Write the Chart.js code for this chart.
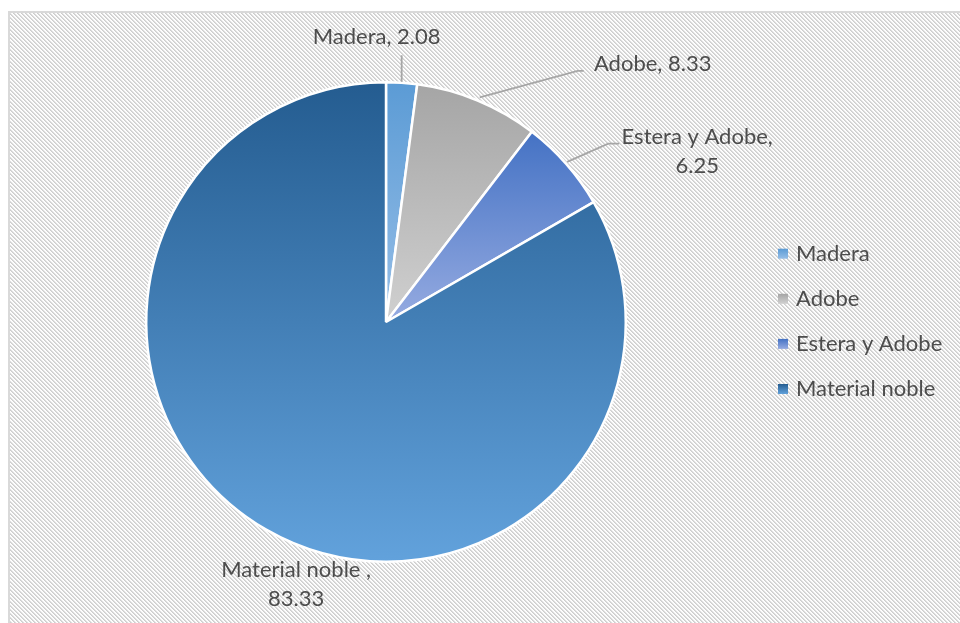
<!DOCTYPE html>
<html>
<head>
<meta charset="utf-8">
<script src="https://cdn.jsdelivr.net/npm/chart.js@4"></script>
<style>
  body { margin: 0; background: #fff; }
  #wrap { width: 960px; height: 623px; }
</style>
</head>
<body>
<div id="wrap"><canvas id="chart" width="960" height="623"></canvas></div>
<script>
// 재료별 비율 데이터
const categories = ['Madera', 'Adobe', 'Estera y Adobe', 'Material noble'];
const values = [2.08, 8.33, 6.25, 83.33];

// 조각 색상 (위쪽 -> 아래쪽 그라데이션)
const colorTop = ['#5b9bd5', '#a5a5a5', '#4472c4', '#245c90'];
const colorBottom = ['#96bee7', '#d0d0d0', '#96abe1', '#62a2dc'];

const FONT = '22px Lato, "Open Sans", sans-serif';
const TEXT_COLOR = '#4d4d4d';

// 데이터 라벨 배치 (조각 바깥쪽 중앙점 기준)
const labelLayout = [
    { sep: ', ', wrap: false, dx: -25, dy: -38.5, leader: [[0, -1], [0, -27.5]] },
    { sep: ', ', wrap: false, dx: 175, dy: -29.3, leader: [[2, -3], [100, -29.6], [106, -29.6]] },
    { sep: ',', wrap: true, dx: 131, dy: -19.6, leader: [[1, -2], [42, -20.3], [53, -20.3]] },
    { sep: ' ,', wrap: true, dx: 30, dy: 47.2, leader: null }
];

// 조각별 세로 그라데이션
function sliceGradient(chart, i) {
    const area = chart.chartArea;
    if (!area) return colorTop[i];
    const cx = (area.left + area.right) / 2;
    const cy = (area.top + area.bottom) / 2;
    const r = Math.min(area.width, area.height) / 2;
    const total = values.reduce((a, b) => a + b, 0);
    const start = values.slice(0, i).reduce((a, b) => a + b, 0) / total * 2 * Math.PI - Math.PI / 2;
    const end = start + values[i] / total * 2 * Math.PI;
    let ymin = cy, ymax = cy;
    for (let k = 0; k <= 60; k++) {
        const y = cy + r * Math.sin(start + (end - start) * k / 60);
        ymin = Math.min(ymin, y);
        ymax = Math.max(ymax, y);
    }
    const g = chart.ctx.createLinearGradient(0, ymin, 0, ymax);
    g.addColorStop(0, colorTop[i]);
    g.addColorStop(1, colorBottom[i]);
    return g;
}

// 빗금 배경 패턴
function makeHatch() {
    const tile = document.createElement('canvas');
    tile.width = 4;
    tile.height = 4;
    const tctx = tile.getContext('2d');
    const img = tctx.createImageData(4, 4);
    for (let y = 0; y < 4; y++) {
        for (let x = 0; x < 4; x++) {
            const d = (x - y + 8) % 4;
            const v = d === 0 ? 206 : d === 1 ? 220 : d === 2 ? 250 : 255;
            const p = (y * 4 + x) * 4;
            img.data[p] = img.data[p + 1] = img.data[p + 2] = v;
            img.data[p + 3] = 255;
        }
    }
    tctx.putImageData(img, 0, 0);
    return tile;
}

const backgroundPlugin = {
    id: 'hatchBackground',
    beforeDraw(chart) {
        const ctx = chart.ctx;
        ctx.save();
        ctx.fillStyle = '#fff';
        ctx.fillRect(0, 0, chart.width, chart.height);
        ctx.fillStyle = ctx.createPattern(makeHatch(), 'repeat');
        ctx.fillRect(8, 11, chart.width - 8, chart.height - 11);
        ctx.fillStyle = '#d9d9d9';
        ctx.fillRect(8, 11, chart.width - 8, 2);
        ctx.fillRect(8, 11, 2, chart.height - 11);
        ctx.restore();
    }
};

// 데이터 라벨과 지시선
const labelPlugin = {
    id: 'sliceLabels',
    afterDatasetsDraw(chart) {
        const ctx = chart.ctx;
        const arcs = chart.getDatasetMeta(0).data;
        ctx.save();
        ctx.font = FONT;
        ctx.textAlign = 'center';
        ctx.textBaseline = 'alphabetic';
        arcs.forEach((arc, i) => {
            const p = arc.getProps(['x', 'y', 'startAngle', 'endAngle', 'outerRadius'], true);
            const mid = (p.startAngle + p.endAngle) / 2;
            const ax = p.x + Math.cos(mid) * p.outerRadius;
            const ay = p.y + Math.sin(mid) * p.outerRadius;
            const lay = labelLayout[i];

            if (lay.leader) {
                ctx.strokeStyle = '#a6a6a6';
                ctx.lineWidth = 1.8;
                ctx.beginPath();
                lay.leader.forEach(([lx, ly], k) => {
                    if (k === 0) ctx.moveTo(ax + lx, ay + ly);
                    else ctx.lineTo(ax + lx, ay + ly);
                });
                ctx.stroke();
            }

            const lines = lay.wrap
                ? [categories[i] + lay.sep, String(values[i])]
                : [categories[i] + lay.sep + values[i]];
            ctx.fillStyle = TEXT_COLOR;
            lines.forEach((t, k) => {
                ctx.fillText(t, ax + lay.dx, ay + lay.dy + k * 29);
            });
        });
        ctx.restore();
    }
};

// 오른쪽 범례
const legendPlugin = {
    id: 'sideLegend',
    afterDraw(chart) {
        const ctx = chart.ctx;
        ctx.save();
        ctx.font = FONT;
        ctx.textAlign = 'left';
        ctx.textBaseline = 'alphabetic';
        categories.forEach((name, i) => {
            const base = 260.7 + i * 45.1;
            const g = ctx.createLinearGradient(0, base - 12, 0, base - 2);
            g.addColorStop(0, colorTop[i]);
            g.addColorStop(1, colorBottom[i]);
            ctx.fillStyle = g;
            ctx.fillRect(778, base - 12, 10, 10);
            ctx.fillStyle = TEXT_COLOR;
            ctx.fillText(name, 796, base);
        });
        ctx.restore();
    }
};

new Chart(document.getElementById('chart'), {
    type: 'pie',
    data: {
        labels: categories,
        datasets: [{
            data: values,
            backgroundColor: c => sliceGradient(c.chart, c.dataIndex),
            borderColor: '#ffffff',
            borderWidth: 2.5
        }]
    },
    options: {
        responsive: false,
        animation: false,
        devicePixelRatio: 1,
        layout: { padding: { left: 145, top: 81, right: 333, bottom: 60 } },
        plugins: {
            legend: { display: false },
            tooltip: { enabled: false }
        }
    },
    plugins: [backgroundPlugin, labelPlugin, legendPlugin]
});
</script>
</body>
</html>
